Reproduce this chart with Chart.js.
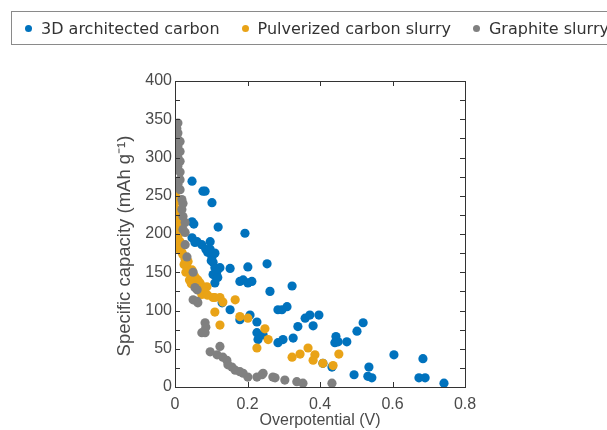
<!DOCTYPE html>
<html>
<head>
<meta charset="utf-8">
<script src="https://cdn.jsdelivr.net/npm/chart.js@4/dist/chart.umd.min.js"></script>
<style>
  html, body { margin: 0; padding: 0; background: #fff; overflow: hidden; }
  #wrap { position: relative; width: 607px; height: 430px; }
  #chart { position: absolute; left: 0; top: 0; }
  #legend {
    position: absolute; left: 11px; top: 11px; height: 34px; width: 640px;
    border: 1px solid #8a8a8a; box-sizing: border-box;
    display: flex; align-items: center;
    font-family: "DejaVu Sans", Verdana, sans-serif; font-size: 16px; color: #333;
    white-space: nowrap;
  }
  #legend .item { display: flex; align-items: center; margin-right: 22px; }
  #legend .item:first-child { margin-left: 13px; }
  #legend .dot { width: 7px; height: 7px; border-radius: 50%; margin-right: 9px; }
</style>
</head>
<body>
<div id="wrap">
  <canvas id="chart" width="607" height="430"></canvas>
  <div id="legend"></div>
</div>
<script>
// ----------------------
//  DATA
// ----------------------
const seriesNames = ['3D architected carbon', 'Pulverized carbon slurry', 'Graphite slurry'];
const seriesColors = ['#0072BD', '#E9A317', '#808080'];

const xTitle = 'Overpotential (V)';
const yTitle = 'Specific capacity (mAh g⁻¹)';

const xTicks = [0, 0.2, 0.4, 0.6, 0.8];
const yTicks = [0, 50, 100, 150, 200, 250, 300, 350, 400];
const yMinorTicks = [25, 75, 125, 175, 225, 275, 325, 375];

// 3D architected carbon  [overpotential V, capacity mAh/g]
const architected = [
    [0.047, 269], [0.077, 256], [0.083, 256], [0.102, 241], [0.119, 209], [0.047, 216],
    [0.052, 213], [0.193, 201], [0.047, 195], [0.061, 190], [0.074, 186], [0.097, 190],
    [0.097, 180], [0.102, 170], [0.105, 163], [0.110, 156], [0.105, 147], [0.110, 136],
    [0.124, 156], [0.152, 155], [0.201, 157], [0.179, 138], [0.188, 140], [0.201, 136],
    [0.212, 138], [0.254, 161], [0.262, 125], [0.323, 132], [0.284, 101], [0.309, 105],
    [0.295, 101], [0.152, 101], [0.130, 110], [0.179, 88], [0.207, 94], [0.226, 85],
    [0.226, 71], [0.229, 62], [0.243, 68], [0.284, 58], [0.298, 62], [0.326, 64],
    [0.339, 79], [0.359, 90], [0.372, 94], [0.397, 94], [0.381, 80], [0.444, 66],
    [0.450, 59], [0.474, 59], [0.441, 58], [0.502, 73], [0.519, 84], [0.408, 31],
    [0.433, 26], [0.494, 16], [0.535, 26], [0.532, 14], [0.543, 12], [0.604, 42],
    [0.684, 37], [0.673, 12], [0.690, 12], [0.742, 5], [0.110, 175], [0.115, 150],
    [0.118, 143], [0.100, 165], [0.085, 180], [0.090, 176], [0.055, 189]
];

// Pulverized carbon slurry
const pulverized = [
    [0.002, 258], [0.003, 248], [0.000, 241], [0.005, 228], [0.008, 215], [0.000, 202],
    [0.008, 197], [0.014, 190], [0.014, 184], [0.019, 176], [0.022, 173], [0.028, 167],
    [0.036, 164], [0.033, 157], [0.047, 153], [0.041, 149], [0.055, 144], [0.050, 143],
    [0.063, 140], [0.069, 136], [0.077, 131], [0.088, 131], [0.074, 121], [0.063, 127],
    [0.105, 117], [0.110, 117], [0.124, 117], [0.132, 111], [0.166, 114], [0.110, 98],
    [0.124, 81], [0.201, 90], [0.179, 92], [0.248, 76], [0.257, 62], [0.226, 51],
    [0.323, 39], [0.345, 43], [0.367, 51], [0.386, 42], [0.381, 35], [0.408, 31],
    [0.436, 28], [0.452, 43], [0.003, 232], [0.006, 222], [0.002, 210], [0.010, 205],
    [0.012, 180], [0.025, 160], [0.030, 150], [0.040, 140], [0.045, 135], [0.058, 132],
    [0.080, 125], [0.090, 120]
];

// Graphite slurry
const graphite = [
    [0.008, 345], [0.005, 338], [0.008, 332], [0.005, 328], [0.014, 321], [0.008, 315],
    [0.014, 308], [0.008, 300], [0.014, 295], [0.008, 289], [0.014, 281], [0.014, 271],
    [0.008, 265], [0.014, 258], [0.019, 245], [0.022, 240], [0.019, 232], [0.022, 223],
    [0.028, 215], [0.022, 206], [0.028, 202], [0.028, 186], [0.033, 170], [0.050, 150],
    [0.055, 130], [0.061, 127], [0.050, 114], [0.063, 110], [0.061, 112], [0.083, 84],
    [0.085, 78], [0.074, 71], [0.083, 71], [0.097, 46], [0.124, 53], [0.116, 42],
    [0.132, 39], [0.143, 35], [0.146, 29], [0.157, 26], [0.166, 22], [0.179, 20],
    [0.188, 18], [0.201, 13], [0.226, 13], [0.240, 16], [0.243, 18], [0.270, 13],
    [0.276, 12], [0.303, 9], [0.336, 7], [0.353, 5], [0.433, 5]
];

const seriesData = [architected, pulverized, graphite];

// ----------------------
//  LEGEND (html)
// ----------------------
const legendEl = document.getElementById('legend');
seriesNames.forEach((name, i) => {
    legendEl.innerHTML += `<div class="item"><span class="dot" style="background:${seriesColors[i]}"></span>${name}</div>`;
});

// ----------------------
//  BOX, INWARD TICKS, Y TITLE
// ----------------------
const boxTicks = {
    id: 'boxTicks',
    afterDraw(chart) {
        const { ctx, chartArea: a, scales: { x, y } } = chart;
        const len = 5;
        ctx.save();
        ctx.strokeStyle = '#333';
        ctx.lineWidth = 1;
        ctx.beginPath();
        xTicks.forEach(v => {
            const px = Math.round(x.getPixelForValue(v)) + 0.5;
            ctx.moveTo(px, a.bottom); ctx.lineTo(px, a.bottom - len);
            ctx.moveTo(px, a.top); ctx.lineTo(px, a.top + len);
        });
        yTicks.concat(yMinorTicks).forEach(v => {
            const py = Math.round(y.getPixelForValue(v)) + 0.5;
            ctx.moveTo(a.left, py); ctx.lineTo(a.left + len, py);
            ctx.moveTo(a.right, py); ctx.lineTo(a.right - len, py);
        });
        ctx.stroke();
        ctx.strokeRect(Math.round(a.left) + 0.5, Math.round(a.top) + 0.5,
            Math.round(a.right - a.left), Math.round(a.bottom - a.top));

        // y axis title, sits a bit below the axis centre like the original
        ctx.translate(125, 246);
        ctx.rotate(-Math.PI / 2);
        ctx.fillStyle = '#4a4a4a';
        ctx.font = '18.5px "Liberation Sans", Arial, sans-serif';
        ctx.textAlign = 'center';
        ctx.textBaseline = 'middle';
        ctx.fillText(yTitle, 0, 0);
        ctx.restore();
    }
};

// ----------------------
//  CHART
// ----------------------
const axisFont = { family: '"Liberation Sans", Arial, sans-serif', size: 16 };

new Chart(document.getElementById('chart'), {
    type: 'scatter',
    data: {
        datasets: seriesNames.map((name, i) => ({
            label: name,
            data: seriesData[i].map(p => ({ x: p[0], y: p[1] })),
            backgroundColor: seriesColors[i],
            borderWidth: 0,
            pointRadius: 4.6,
            pointHoverRadius: 4.6,
            order: 2 - i,
        }))
    },
    options: {
        responsive: false,
        animation: false,
        layout: { padding: { left: 0, top: 81, right: 142, bottom: 0 } },
        plugins: { legend: { display: false }, tooltip: { enabled: false } },
        scales: {
            x: {
                type: 'linear', min: 0, max: 0.8,
                afterBuildTicks: s => { s.ticks = xTicks.map(v => ({ value: v })); },
                afterFit: s => { s.height = 43; },
                grid: { display: false, drawTicks: false },
                border: { display: false },
                ticks: { padding: 8, color: '#4a4a4a', font: axisFont, callback: v => String(v) },
                title: { display: true, text: xTitle, color: '#4a4a4a', font: axisFont, padding: { top: 0, bottom: 0 } }
            },
            y: {
                type: 'linear', min: 0, max: 400,
                afterBuildTicks: s => { s.ticks = yTicks.map(v => ({ value: v })); },
                afterFit: s => { s.width = 175; },
                grid: { display: false, drawTicks: false },
                border: { display: false },
                ticks: { padding: 3, color: '#4a4a4a', font: axisFont, callback: v => String(v) },
                title: { display: false }
            }
        }
    },
    plugins: [boxTicks]
});
</script>
</body>
</html>
